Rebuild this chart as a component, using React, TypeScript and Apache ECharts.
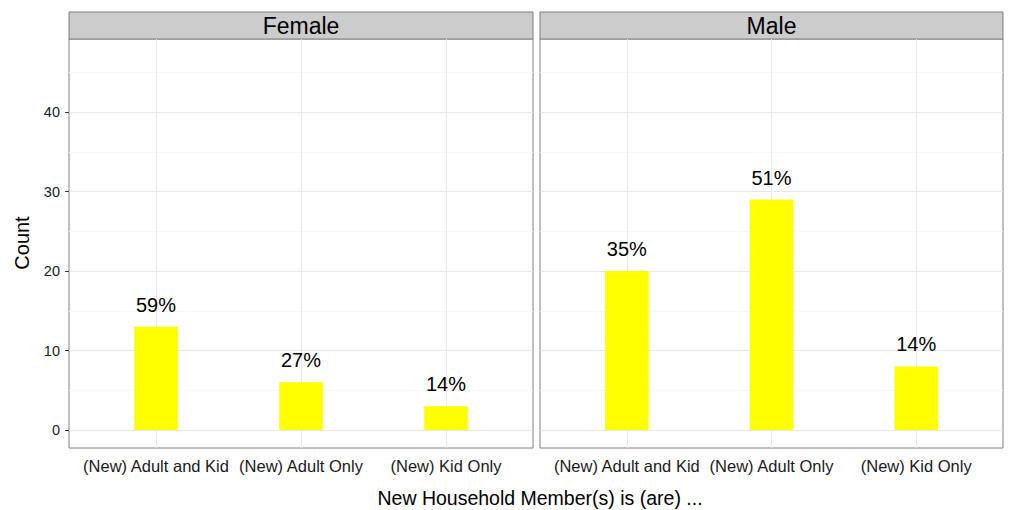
import React, { useEffect, useRef } from "react";
import * as echarts from "echarts";

const categories = ["(New) Adult and Kid", "(New) Adult Only", "(New) Kid Only"];
const panels = ["Female", "Male"];
const femaleCounts = [13, 6, 3];
const maleCounts = [20, 29, 8];
const femalePct = ["59%", "27%", "14%"];
const malePct = ["35%", "51%", "14%"];
const yTicks = [0, 10, 20, 30, 40];
const yMinor = [5, 15, 25, 35, 45];
const catPos = [1, 2, 3];

const FONT = "'Liberation Sans', Arial, Helvetica, sans-serif";

export default function App() {
  const ref = useRef<HTMLDivElement>(null);
  useEffect(() => {
    if (!ref.current) return;
    const chart = echarts.init(ref.current, undefined, { renderer: "svg" });
    const grids = [
      { left: 69, top: 39, width: 464, height: 409 },
      { left: 540, top: 39, width: 463, height: 409 },
    ];
    const xAxes = grids.map((_, i) => ({
      type: "value",
      gridIndex: i,
      min: 0.4,
      max: 3.6,
      axisLine: { show: false },
      splitLine: { show: false },
      axisTick: { show: true, customValues: catPos, length: 4, lineStyle: { color: "#333", width: 1 } },
      axisLabel: {
        customValues: catPos,
        formatter: (v: number) => categories[Math.round(v) - 1] ?? "",
        fontSize: 16.5,
        color: "#1a1a1a",
        fontFamily: FONT,
        margin: 9,
      },
    }));
    const yAxes = grids.map((_, i) => ({
      type: "value",
      gridIndex: i,
      min: -2.26,
      max: 49.2,
      axisLine: { show: false },
      splitLine: { show: false },
      axisTick: { show: i === 0, customValues: yTicks, length: 4, lineStyle: { color: "#333", width: 1 } },
      axisLabel: {
        show: i === 0,
        customValues: yTicks,
        fontSize: 14.5,
        color: "#1a1a1a",
        fontFamily: FONT,
        margin: 9,
      },
    }));
    const gridLines = (i: number) => ({
      type: "line",
      xAxisIndex: i,
      yAxisIndex: i,
      data: [],
      silent: true,
      markLine: {
        silent: true,
        symbol: "none",
        z: 1,
        label: { show: false },
        animation: false,
        data: [
          ...yMinor.map((v) => ({ yAxis: v, lineStyle: { color: "#f7f7f7", width: 1, type: "solid" } })),
          ...yTicks.map((v) => ({ yAxis: v, lineStyle: { color: "#e8e8e8", width: 1, type: "solid" } })),
          ...catPos.map((v) => ({ xAxis: v, lineStyle: { color: "#e8e8e8", width: 1, type: "solid" } })),
        ],
      },
    });
    const barSeries = (i: number, counts: number[], pct: string[]) => ({
      type: "bar",
      xAxisIndex: i,
      yAxisIndex: i,
      z: 2,
      barWidth: 43.5,
      data: counts.map((c, k) => [catPos[k], c]),
      itemStyle: { color: "#ffff00" },
      label: {
        show: true,
        position: "top",
        distance: 12,
        formatter: (p: any) => pct[p.dataIndex],
        fontSize: 20,
        color: "#000",
        fontFamily: FONT,
      },
    });
    const stripGraphics = grids.map((g, i) => ({
      type: "group",
      children: [
        {
          type: "rect",
          shape: { x: g.left, y: 12, width: g.width, height: 27 },
          style: { fill: "#cccccc", stroke: "#7f7f7f", lineWidth: 1 },
        },
        {
          type: "text",
          x: g.left + g.width / 2,
          y: 25.5,
          style: {
            text: panels[i],
            fontSize: 23,
            fontFamily: FONT,
            fill: "#000",
            align: "center",
            verticalAlign: "middle",
          },
        },
      ],
    }));
    chart.setOption({
      animation: false,
      backgroundColor: "#ffffff",
      grid: grids.map((g) => ({ ...g, show: true, borderColor: "#7f7f7f", borderWidth: 1, backgroundColor: "#ffffff", containLabel: false })),
      xAxis: xAxes,
      yAxis: yAxes,
      series: [gridLines(0), gridLines(1), barSeries(0, femaleCounts, femalePct), barSeries(1, maleCounts, malePct)],
      graphic: [
        ...stripGraphics,
        {
          type: "text",
          x: 22,
          y: 243,
          rotation: Math.PI / 2,
          style: { text: "Count", fontSize: 20, fontFamily: FONT, fill: "#000", align: "center", verticalAlign: "middle" },
        },
        {
          type: "text",
          x: 540,
          y: 498,
          style: {
            text: "New Household Member(s) is (are) ...",
            fontSize: 19.5,
            fontFamily: FONT,
            fill: "#000",
            align: "center",
            verticalAlign: "middle",
          },
        },
      ],
    });
    return () => chart.dispose();
  }, []);
  return <div ref={ref} style={{ position: "fixed", left: 0, top: 0, width: 1010, height: 510 }} />;
}
